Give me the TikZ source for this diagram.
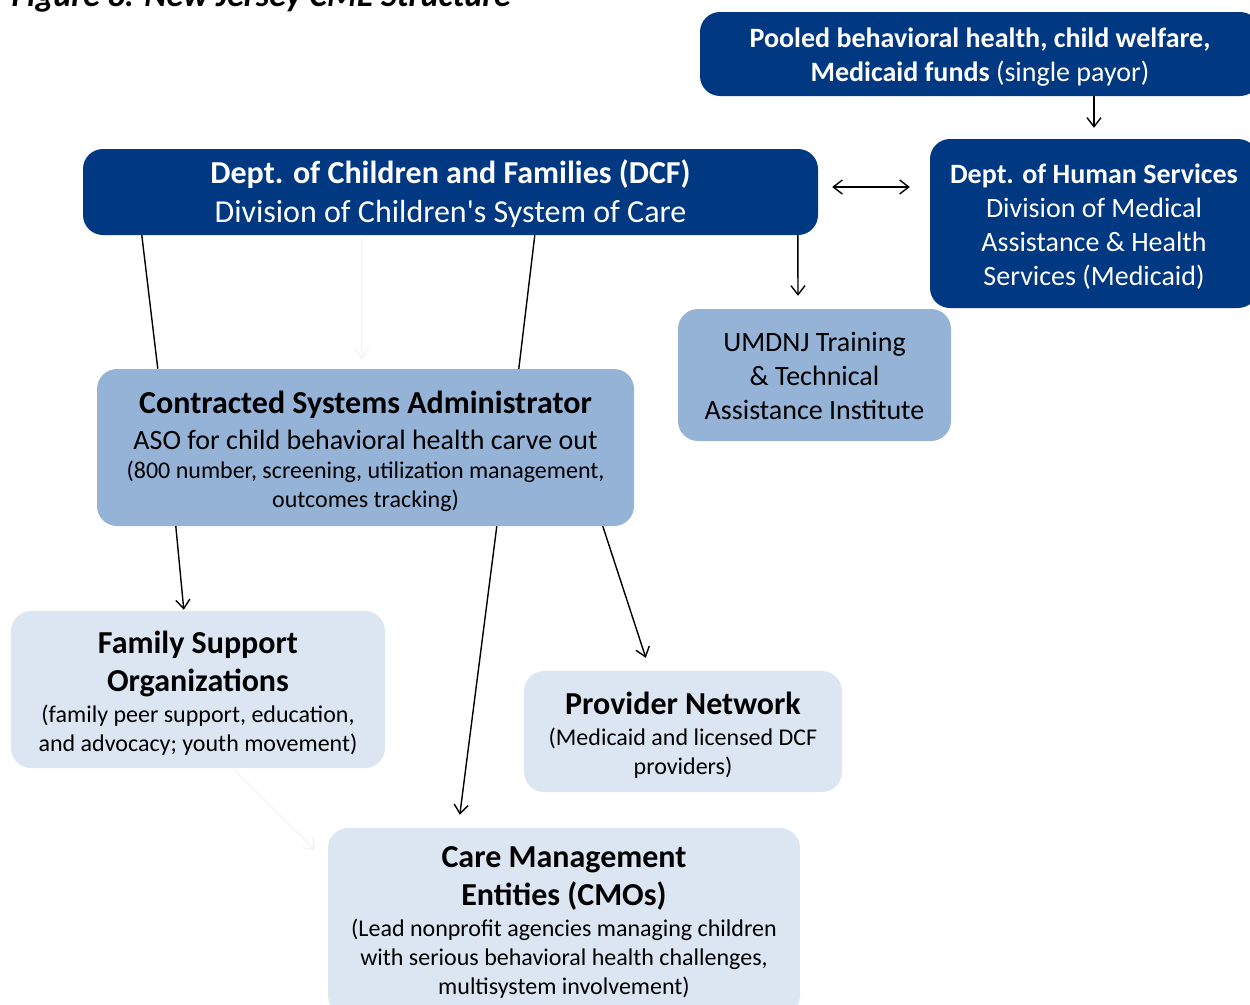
\documentclass[tikz,border=0pt]{standalone}
\usepackage{fontspec}
\setmainfont{Carlito}
\usetikzlibrary{arrows.meta}
\definecolor{dkblue}{RGB}{0,56,130}
\definecolor{midblue}{RGB}{149,179,215}
\definecolor{paleblue}{RGB}{220,230,242}
\newcommand{\noLS}{\lineskiplimit=-100pt\relax}
\newcommand{\fsBig}{\fontsize{32}{29}\selectfont\bfseries}
\newcommand{\fsMid}{\fontsize{28}{29}\selectfont\mdseries}
\newcommand{\fsSmall}{\fontsize{24}{29}\selectfont\mdseries}
\tikzset{
  box/.style={rectangle, rounded corners=20pt, inner sep=0pt},
  dark/.style={box, fill=dkblue},
  mid/.style={box, fill=midblue},
  pale/.style={box, fill=paleblue},
  txt/.style={align=center, inner sep=0pt, text=black},
  wtxt/.style={txt, text=white},
  conn/.style={line width=1.4pt, draw=black},
  tipB/.tip={Straight Barb[length=9pt,width=14pt,line width=1.4pt]},
  arr/.style={conn, -tipB},
  faint/.style={line width=1.2pt, draw=black!5, -{Straight Barb[length=9pt,width=14pt]}},
}
\begin{document}
\begin{tikzpicture}[x=1pt,y=-1pt]
\useasboundingbox (0,0) rectangle (1250,1004);
\node[anchor=base west, font=\fontsize{34}{36}\selectfont\bfseries\itshape] (title) at (8,6) {Figure 8. New Jersey CME Structure};

% boxes
\node[dark, minimum width=560pt, minimum height=84pt] (pool) at (980,54) {};
\node[dark, minimum width=735pt, minimum height=86pt] (dcf) at (450.5,192) {};
\node[dark, minimum width=328pt, minimum height=169pt] (dhs) at (1094,223.5) {};
\node[mid, minimum width=273pt, minimum height=132pt] (umdnj) at (814.5,375) {};
\node[mid, minimum width=537pt, minimum height=157pt] (csa) at (365.5,447.5) {};
\node[pale, minimum width=374pt, minimum height=157pt] (fso) at (198,689.5) {};
\node[pale, minimum width=318pt, minimum height=121pt] (pn) at (683,731.5) {};
\node[pale, minimum width=472pt, minimum height=188pt] (cmo) at (564,922) {};

% texts
\node[wtxt, font=\fontsize{28}{34}\selectfont\noLS] (poolT) at ([yshift=-3pt]pool.center)
  {\textbf{Pooled behavioral health, child welfare,}\\\textbf{Medicaid funds} (single payor)};
\node[wtxt, font=\fontsize{32}{39}\selectfont\noLS] (dcfT) at ([yshift=-2pt]dcf.center)
  {\textbf{Dept. of Children and Families (DCF)}\\Division of Children\textquotesingle s System of Care};
\node[wtxt, font=\fontsize{28}{34}\selectfont\noLS] (dhsT) at ([yshift=-3pt]dhs.center)
  {\textbf{Dept. of Human Services}\\Division of Medical\\Assistance \& Health\\Services (Medicaid)};
\node[txt, font=\fontsize{28}{34}\selectfont\noLS] (umdnjT) at ([yshift=-1pt]umdnj.center)
  {UMDNJ Training\\\& Technical\\Assistance Institute};
\node[txt, font=\fontsize{24}{29}\selectfont\noLS] (csaT) at ([yshift=-4pt]csa.center)
  {\fsBig Contracted Systems Administrator\\[6.6pt]
   \fsMid ASO for child behavioral health carve out\\[0.6pt]
   \fsSmall (800 number, screening, utilization management,\\
   \fsSmall outcomes tracking)};
\node[txt, font=\fontsize{24}{29}\selectfont\noLS] (fsoT) at ([yshift=-4pt]fso.center)
  {\fsBig Family Support\\[9pt]
   \fsBig Organizations\\[2pt]
   \fsSmall (family peer support, education,\\
   \fsSmall and advocacy; youth movement)};
\node[txt, font=\fontsize{24}{29}\selectfont\noLS] (pnT) at ([yshift=-4pt]pn.center)
  {\fsBig Provider Network\\[2pt]
   \fsSmall (Medicaid and licensed DCF\\
   \fsSmall providers)};
\node[txt, font=\fontsize{24}{29}\selectfont\noLS] (cmoT) at ([yshift=-0.5pt]cmo.center)
  {\fsBig Care Management\\[9pt]
   \fsBig Entities (CMOs)\\[2pt]
   \fsSmall (Lead nonprofit agencies managing children\\
   \fsSmall with serious behavioral health challenges,\\
   \fsSmall multisystem involvement)};

% faint connectors
\draw[faint] ([xshift=279pt]dcf.south west) -- ([xshift=265pt,yshift=10pt]csa.north west);
\draw[faint] ([xshift=224pt,yshift=-2pt]fso.south west) -- ([xshift=-13pt,yshift=-22pt]cmo.north west);

% connectors
\draw[arr] ([xshift=114pt]pool.south) -- ([yshift=11pt]dhs.north);
\draw[conn, tipB-tipB] ([xshift=14pt,yshift=5pt]dcf.east) -- ([xshift=-20pt,yshift=36.5pt]dhs.west);
\draw[arr] ([xshift=715pt]dcf.south west) -- ([xshift=-16.5pt,yshift=13pt]umdnj.north);
\draw[conn] ([xshift=59pt]dcf.south west) -- ([xshift=61pt]csa.north west);
\draw[conn] ([xshift=452pt]dcf.south west) -- ([xshift=422pt]csa.north west);
\draw[arr] ([xshift=79pt]csa.south west) -- ([xshift=173pt,yshift=1pt]fso.north west);
\draw[arr] ([xshift=400pt]csa.south west) -- ([xshift=132pt,yshift=13pt]cmo.north west);
\draw[arr] ([xshift=506pt]csa.south west) -- ([xshift=122pt,yshift=13pt]pn.north west);
\end{tikzpicture}
\end{document}
